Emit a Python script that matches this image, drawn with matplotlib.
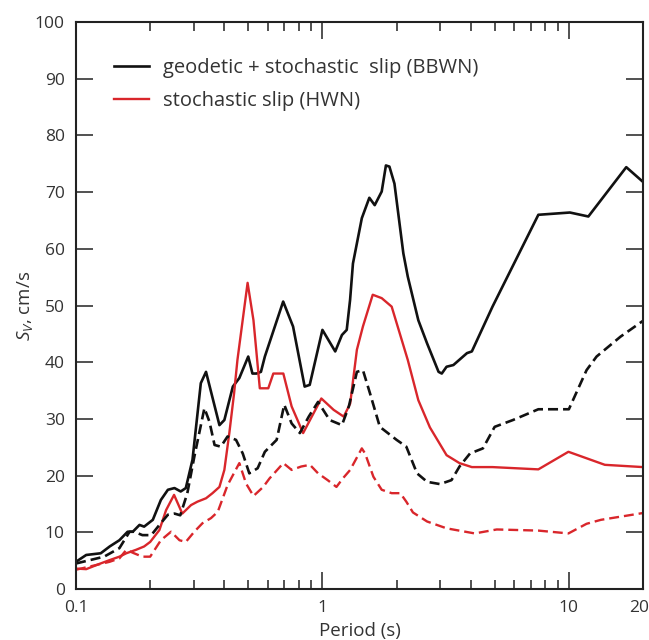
import matplotlib
matplotlib.use("Agg")
import matplotlib.pyplot as plt
import matplotlib.transforms as mtransforms
from matplotlib.ticker import FixedLocator, NullFormatter

plt.rcParams['font.family'] = ['Open Sans', 'DejaVu Sans']
plt.rcParams['mathtext.fontset'] = 'custom'
plt.rcParams['mathtext.it'] = 'Open Sans:italic'
plt.rcParams['mathtext.rm'] = 'Open Sans'

# geodetic + stochastic slip (BBWN), solid black
bb_T = [0.1, 0.11, 0.126, 0.137, 0.15, 0.162, 0.17, 0.181, 0.189, 0.205, 0.221,
        0.236, 0.251, 0.266, 0.279, 0.297, 0.321, 0.337, 0.382, 0.40, 0.433,
        0.46, 0.50, 0.52, 0.54, 0.563, 0.584, 0.693, 0.76, 0.847, 0.888, 1.0,
        1.127, 1.2, 1.255, 1.295, 1.33, 1.445, 1.55, 1.63, 1.74, 1.81, 1.87,
        1.96, 2.13, 2.22, 2.45, 2.66, 2.96, 3.05, 3.19, 3.4, 3.86, 4.04, 4.9,
        7.52, 10.1, 12.0, 17.1, 20]
bb_v = [4.8, 6.0, 6.3, 7.5, 8.6, 10.1, 10.1, 11.3, 11.0, 12.2, 15.7,
        17.5, 17.8, 17.2, 17.8, 22.8, 36.3, 38.3, 28.9, 29.8, 35.7,
        37.2, 41.0, 38.0, 38.0, 38.3, 41.0, 50.7, 46.3, 35.7, 36.0, 45.7,
        41.9, 44.8, 45.7, 51.0, 57.4, 65.4, 69.0, 67.7, 70.1, 74.7, 74.5,
        71.5, 59.2, 55.1, 47.4, 43.3, 38.3, 38.0, 39.2, 39.5, 41.6, 41.9, 49.8,
        66.0, 66.4, 65.7, 74.4, 71.8]

# stochastic part of BBWN, dashed black
bs_T = [0.1, 0.13, 0.15, 0.165, 0.172, 0.186, 0.202, 0.218, 0.236, 0.251, 0.265,
        0.283, 0.302, 0.332, 0.348, 0.365, 0.387, 0.412, 0.446, 0.475, 0.505,
        0.546, 0.584, 0.652, 0.70, 0.75, 0.81, 0.88, 0.96, 1.07, 1.2, 1.28,
        1.38, 1.46, 1.56, 1.71, 2.0, 2.19, 2.42, 2.66, 3.0, 3.34, 3.6, 3.97,
        4.48, 5.0, 5.93, 7.52, 10.0, 11.8, 12.96, 16.2, 20]
bs_v = [4.5, 5.7, 7.2, 10.1, 10.1, 9.5, 9.5, 11.3, 13.1, 13.3, 13.0,
        16.9, 23.3, 31.9, 29.5, 25.4, 25.1, 26.9, 26.3, 23.9, 20.4,
        21.3, 24.2, 26.3, 32.5, 29.2, 27.5, 30.4, 33.0, 29.8, 28.9, 32.2,
        38.3, 38.6, 34.5, 28.6, 26.3, 25.1, 20.4, 18.9, 18.5, 19.2, 21.6, 23.9,
        24.8, 28.6, 29.8, 31.7, 31.7, 38.6, 41.0, 44.5, 47.3]

# stochastic slip (HWN), solid red
hw_T = [0.1, 0.11, 0.124, 0.137, 0.15, 0.16, 0.175, 0.189, 0.2, 0.218, 0.232,
        0.25, 0.27, 0.293, 0.311, 0.337, 0.358, 0.382, 0.40, 0.419, 0.438,
        0.452, 0.497, 0.525, 0.557, 0.603, 0.632, 0.694, 0.75, 0.835, 0.99,
        1.11, 1.22, 1.296, 1.38, 1.46, 1.60, 1.74, 1.91, 2.02, 2.22, 2.45,
        2.73, 3.19, 3.6, 4.04, 4.9, 7.52, 9.96, 14.0, 20]
hw_v = [3.6, 3.5, 4.4, 5.1, 5.7, 6.3, 6.9, 7.5, 8.3, 10.4, 13.9,
        16.6, 13.3, 14.8, 15.4, 16.0, 16.9, 18.0, 21.0, 27.5, 34.5,
        40.4, 54.0, 47.4, 35.4, 35.4, 38.0, 38.0, 32.2, 27.5, 33.6,
        31.6, 30.4, 32.7, 42.2, 46.3, 51.9, 51.3, 49.8, 46.3, 40.4, 33.3,
        28.5, 23.6, 22.2, 21.5, 21.5, 21.1, 24.2, 21.9, 21.5]

# second HWN curve, dashed red
hs_T = [0.1, 0.12, 0.137, 0.15, 0.16, 0.172, 0.186, 0.2, 0.221, 0.243, 0.263,
        0.279, 0.302, 0.326, 0.353, 0.376, 0.412, 0.46, 0.49, 0.525, 0.575,
        0.61, 0.694, 0.75, 0.82, 0.89, 0.96, 1.05, 1.14, 1.21, 1.296, 1.445,
        1.49, 1.61, 1.74, 1.91, 2.07, 2.19, 2.33, 2.66, 3.19, 4.15, 5.1, 7.52,
        9.96, 11.8, 13.5, 20]
hs_v = [3.4, 4.2, 4.8, 5.4, 6.9, 6.3, 5.7, 5.7, 8.6, 10.1, 8.6,
        8.3, 10.1, 11.6, 12.5, 13.6, 18.3, 22.2, 18.6, 16.4, 18.0,
        19.5, 22.2, 21.0, 21.6, 21.9, 20.4, 19.2, 18.0, 19.5, 21.0, 24.8,
        23.9, 19.8, 17.5, 16.9, 16.9, 15.4, 13.5, 11.9, 10.7, 9.8, 10.5, 10.3,
        9.8, 11.5, 12.2, 13.4]

x_ticks = [0.1, 1, 10, 20]
x_labels = ['0.1', '1', '10', '20']
y_ticks = [0, 10, 20, 30, 40, 50, 60, 70, 80, 90, 100]

black = '#111111'
red = '#d9262b'
txt = '#333333'

fig = plt.figure(figsize=(6.49, 6.40), dpi=100)
ax = fig.add_axes([0.1171, 0.0797, 0.8737, 0.8859])

ax.plot(bb_T, bb_v, color=black, lw=1.9, label='geodetic + stochastic  slip (BBWN)')
ax.plot(hw_T, hw_v, color=red, lw=1.7, label='stochastic slip (HWN)')
ax.plot(bs_T, bs_v, color=black, lw=1.9, ls=(0, (3.8, 1.9)))
ax.plot(hs_T, hs_v, color=red, lw=1.7, ls=(0, (4.2, 2.1)))

ax.set_xscale('log')
ax.set_xlim(0.1, 20)
ax.set_ylim(0, 100)
ax.xaxis.set_major_locator(FixedLocator(x_ticks))
ax.set_xticklabels(x_labels)
minors = [m * d for d in (0.1, 1) for m in range(2, 10)]
ax.xaxis.set_minor_locator(FixedLocator(minors))
ax.xaxis.set_minor_formatter(NullFormatter())
ax.set_yticks(y_ticks)

for s in ax.spines.values():
    s.set_linewidth(1.5)
    s.set_color('#222222')
ax.tick_params(which='major', direction='in', length=12, width=1.1,
               top=True, right=True, labelsize=12.5, labelcolor=txt,
               color='#222222', pad=8)
ax.tick_params(which='minor', direction='in', length=6.3, width=1.1,
               top=True, right=False, color='#222222')
ax.tick_params(axis='y', which='minor', left=False, right=False)

# the "20" label sits at the right edge; nudge it a little left
shift = mtransforms.ScaledTranslation(-3 / 72, 0, fig.dpi_scale_trans)
lab20 = ax.get_xticklabels()[-1]
lab20.set_transform(lab20.get_transform() + shift)

ax.set_xlabel('Period (s)', fontsize=13.5, color=txt, labelpad=4)
ax.set_ylabel(r'$S_V$, cm/s', fontsize=13.5, color=txt)
ax.yaxis.set_label_coords(-0.072, 0.5)

leg = ax.legend(loc='upper left', bbox_to_anchor=(0.035, 0.968), frameon=False,
                fontsize=14.5, handlelength=1.75, handletextpad=0.7,
                labelspacing=0.62, labelcolor=txt)

fig.savefig('out.png', dpi=100)
